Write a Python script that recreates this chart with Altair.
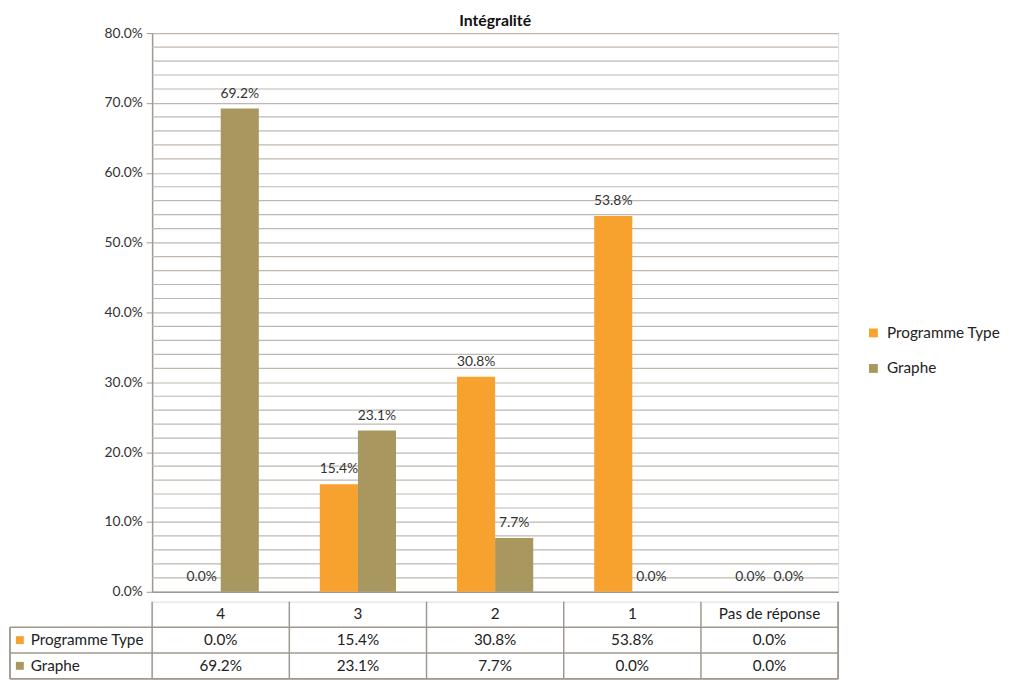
import altair as alt
import pandas as pd

categories = ["4", "3", "2", "1", "Pas de réponse"]
series_names = ["Programme Type", "Graphe"]
programme_type = [0.0, 0.154, 0.308, 0.538, 0.0]
graphe = [0.692, 0.231, 0.077, 0.0, 0.0]
colors = ["#F7A12F", "#A8975E"]
major_ticks = [i / 100 for i in range(0, 81, 10)]
minor_ticks = [i / 100 for i in range(2, 80, 2) if i % 10 != 0]
title_text = ["Intégralité"]

FONT = "Lato"
GRID = "#BFB8AF"
BORDER = "#9E9890"

rows = []
for s, vals in zip(series_names, [programme_type, graphe]):
    for c, v in zip(categories, vals):
        rows.append({"cat": c, "series": s, "value": v, "label": f"{v*100:.1f}%"})
df = pd.DataFrame(rows)

W = 695
H = 566
TH = 78

xscale = alt.Scale(domain=categories, paddingInner=0, paddingOuter=0)
yscale = alt.Scale(domain=[0, 0.8], nice=False)
yaxis = alt.Axis(title=None, values=major_ticks, format=".1%", labelOverlap=False,
                 tickColor=BORDER, tickSize=6, labelPadding=4,
                 labelFont=FONT, labelFontSize=14, labelColor="#333",
                 domainColor=BORDER, domainWidth=1.5,
                 gridColor=GRID, gridWidth=1.2)
color = alt.Color("series:N", scale=alt.Scale(domain=series_names, range=colors),
                  legend=alt.Legend(title=None, orient="none", legendX=723, legendY=296,
                                    symbolType="square", symbolSize=80, symbolStrokeWidth=0,
                                    labelFont=FONT, labelFontSize=15.5, labelColor="#222",
                                    rowPadding=19, labelOffset=6))

minor = alt.Chart(pd.DataFrame({"v": minor_ticks})).mark_rule(color=GRID, strokeWidth=1.2).encode(
    y=alt.Y("v:Q", scale=yscale, axis=yaxis))

base = alt.Chart(df)
bars = base.mark_bar().encode(
    x=alt.X("cat:N", scale=xscale, sort=categories,
            axis=alt.Axis(title=None, labels=False, ticks=False, domain=True,
                          domainColor=BORDER, domainWidth=1.5, grid=False)),
    xOffset=alt.XOffset("series:N", sort=series_names,
                        scale=alt.Scale(domain=series_names, paddingInner=0, paddingOuter=0.8)),
    y=alt.Y("value:Q", scale=yscale, axis=yaxis),
    color=color,
)
labels = base.mark_text(baseline="bottom", dy=-8, font=FONT, fontSize=14, color="#333").encode(
    x=alt.X("cat:N", scale=xscale, sort=categories),
    xOffset=alt.XOffset("series:N", sort=series_names),
    y="value:Q",
    text="label:N",
)
title = alt.Chart(pd.DataFrame({"t": title_text})).mark_text(
    font=FONT, fontSize=16, fontWeight="bold", color="#111", baseline="middle"
).encode(x=alt.value(W / 2), y=alt.value(-12), text="t:N")

main = alt.layer(minor, bars, labels, title).properties(width=W, height=H)

# Data table below
row_order = ["hdr"] + series_names
trows = []
for c in categories:
    trows.append({"cat": c, "row": "hdr", "txt": c})
for s, vals in zip(series_names, [programme_type, graphe]):
    for c, v in zip(categories, vals):
        trows.append({"cat": c, "row": s, "txt": f"{v*100:.1f}%"})
tdf = pd.DataFrame(trows)
rdf = pd.DataFrame({"row": series_names, "series": series_names})
cdf = pd.DataFrame({"cat": categories})

rscale = alt.Scale(domain=row_order, paddingInner=0, paddingOuter=0)
yrow = alt.Y("row:N", scale=rscale, axis=None)
xcat = alt.X("cat:N", scale=xscale, sort=categories, axis=None)

ttext = alt.Chart(tdf).mark_text(font=FONT, fontSize=15.5, color="#222").encode(x=xcat, y=yrow, text="txt:N")
vlines = alt.Chart(cdf).mark_rule(color=BORDER, strokeWidth=1.5).encode(
    x=alt.X("cat:N", scale=xscale, sort=categories, axis=None, bandPosition=0),
    y=alt.value(0), y2=alt.value(TH))
rightline = alt.Chart(rdf).mark_rule(color=BORDER, strokeWidth=1.5).encode(
    x=alt.value(W), y=alt.value(0), y2=alt.value(TH))
hlines = alt.Chart(rdf).mark_rule(color=BORDER, strokeWidth=1.5).encode(
    y=alt.Y("row:N", scale=rscale, axis=None, bandPosition=0),
    x=alt.value(-144), x2=alt.value(W))
bottom = alt.Chart(rdf).mark_rule(color=BORDER, strokeWidth=1.5).encode(
    x=alt.value(-144), x2=alt.value(W), y=alt.value(TH))
leftline = alt.Chart(rdf).mark_rule(color=BORDER, strokeWidth=1.5).encode(
    x=alt.value(-144), y=alt.value(TH / 3), y2=alt.value(TH))
rlabels = alt.Chart(rdf).mark_text(align="left", font=FONT, fontSize=15.5, color="#222").encode(
    x=alt.value(-123), y=yrow, text="series:N")
rsym = alt.Chart(rdf).mark_point(shape="square", filled=True, size=64, opacity=1).encode(
    x=alt.value(-134), y=yrow,
    color=alt.Color("series:N", scale=alt.Scale(domain=series_names, range=colors), legend=None))

table = alt.layer(hlines, bottom, leftline, vlines, rightline, ttext, rlabels, rsym).properties(width=W, height=TH)

chart = alt.vconcat(main, table, spacing=0).properties(
    padding={"left": 0, "top": 0, "right": 0, "bottom": 0}
).configure_view(stroke=None).configure(background="white")

chart.save("out.html", embed_options={"renderer": "svg", "actions": False})
